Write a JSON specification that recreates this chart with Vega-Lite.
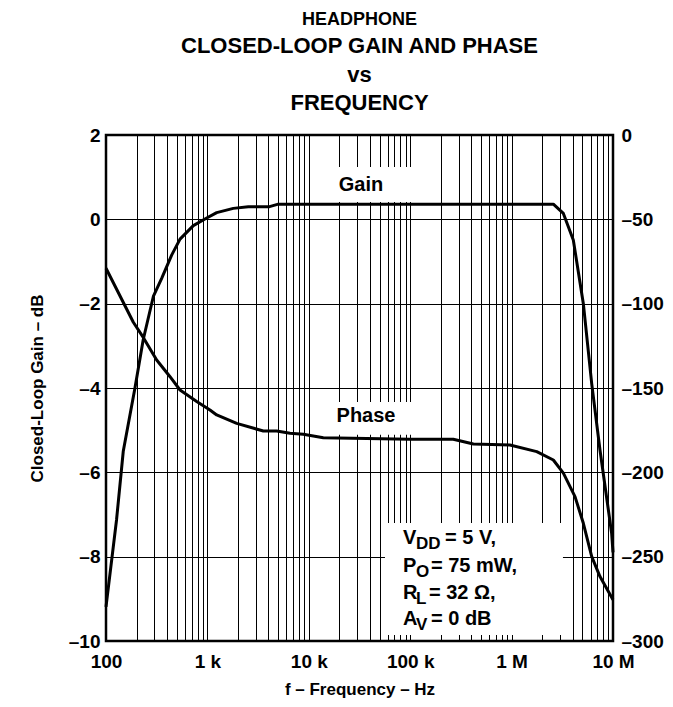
{
  "$schema": "https://vega.github.io/schema/vega-lite/v6.json",
  "width": 507,
  "height": 506,
  "autosize": {"type": "none"},
  "padding": {"left": 106, "top": 135, "right": 60, "bottom": 66},
  "background": "white",
  "title": {
    "text": "HEADPHONE",
    "subtitle": ["CLOSED-LOOP GAIN AND PHASE", "vs", "FREQUENCY"],
    "font": "Liberation Sans",
    "fontSize": 18,
    "fontWeight": "bold",
    "color": "black",
    "subtitleFont": "Liberation Sans",
    "subtitleFontSize": 22,
    "subtitleFontWeight": "bold",
    "subtitleColor": "black",
    "subtitleLineHeight": 28.5,
    "subtitlePadding": 7,
    "anchor": "middle",
    "offset": 12
  },
  "datasets": {
    "gain": [
      {"f": 100, "g": -9.19},
      {"f": 127, "g": -7.13},
      {"f": 148, "g": -5.5},
      {"f": 193, "g": -4.0},
      {"f": 233, "g": -2.85},
      {"f": 293, "g": -1.83},
      {"f": 354, "g": -1.4},
      {"f": 444, "g": -0.85},
      {"f": 537, "g": -0.47},
      {"f": 726, "g": -0.15},
      {"f": 985, "g": 0.03},
      {"f": 1235, "g": 0.16},
      {"f": 1800, "g": 0.26},
      {"f": 2530, "g": 0.3},
      {"f": 4100, "g": 0.3},
      {"f": 5000, "g": 0.36},
      {"f": 100000, "g": 0.36},
      {"f": 2580000, "g": 0.36},
      {"f": 3240000, "g": 0.14},
      {"f": 4060000, "g": -0.49},
      {"f": 5100000, "g": -2.0},
      {"f": 6170000, "g": -3.9},
      {"f": 7440000, "g": -5.47},
      {"f": 9700000, "g": -7.45},
      {"f": 10000000, "g": -7.9}
    ],
    "phase": [
      {"f": 100, "p": -79},
      {"f": 186, "p": -111},
      {"f": 233, "p": -120},
      {"f": 316, "p": -133.4},
      {"f": 428, "p": -143.3},
      {"f": 537, "p": -151.2},
      {"f": 784, "p": -158},
      {"f": 1060, "p": -163},
      {"f": 1235, "p": -166},
      {"f": 1945, "p": -171},
      {"f": 3560, "p": -175.5},
      {"f": 4820, "p": -175.5},
      {"f": 6530, "p": -176.8},
      {"f": 8830, "p": -177.4},
      {"f": 13900, "p": -179.5},
      {"f": 99500, "p": -180.4},
      {"f": 266000, "p": -180.4},
      {"f": 420000, "p": -183.2},
      {"f": 964000, "p": -183.8},
      {"f": 1770000, "p": -187.7},
      {"f": 2580000, "p": -192.7},
      {"f": 3240000, "p": -200.5},
      {"f": 4220000, "p": -214.4},
      {"f": 5100000, "p": -230.2},
      {"f": 6170000, "p": -250},
      {"f": 7440000, "p": -261.8},
      {"f": 10000000, "p": -275.6}
    ],
    "boxes": [
      {"f": 16200, "f2": 111000, "g": 1.24, "g2": 0.41},
      {"f": 16200, "f2": 111000, "g": -4.33, "g2": -5.11},
      {"f": 56400, "f2": 3210000, "g": -7.2, "g2": -9.86}
    ],
    "labels": [
      {"f": 32700, "g": 0.81, "t": "Gain"},
      {"f": 36660, "g": -4.66, "t": "Phase"}
    ],
    "ann": [
      {"f": 84900, "g": -7.56, "t": "V"},
      {"f": 220300, "g": -7.56, "t": "= 5 V,"},
      {"f": 84900, "g": -8.22, "t": "P"},
      {"f": 160300, "g": -8.22, "t": "= 75 mW,"},
      {"f": 84900, "g": -8.87, "t": "R"},
      {"f": 153200, "g": -8.87, "t": "= 32 Ω,"},
      {"f": 84900, "g": -9.48, "t": "A"},
      {"f": 160300, "g": -9.48, "t": "= 0 dB"}
    ],
    "annsub": [
      {"f": 114100, "g": -7.56, "t": "DD"},
      {"f": 114100, "g": -8.22, "t": "O"},
      {"f": 114100, "g": -8.87, "t": "L"},
      {"f": 114100, "g": -9.48, "t": "V"}
    ]
  },
  "layer": [
    {
      "layer": [
        {
          "data": {"name": "boxes"},
          "mark": {"type": "rect", "fill": "white", "strokeWidth": 0},
          "encoding": {
            "x": {"field": "f", "type": "quantitative", "scale": {"type": "log", "domain": [100, 10000000], "nice": false}},
            "x2": {"field": "f2"},
            "y": {"field": "g", "type": "quantitative", "scale": {"domain": [-10, 2], "nice": false, "zero": false}},
            "y2": {"field": "g2"}
          }
        },
        {
          "data": {"name": "gain"},
          "mark": {"type": "line", "color": "black", "strokeWidth": 3, "strokeJoin": "round"},
          "encoding": {
            "x": {
              "field": "f", "type": "quantitative",
              "scale": {"type": "log", "domain": [100, 10000000], "nice": false},
              "axis": {
                "values": [100, 200, 300, 400, 500, 600, 700, 800, 900,
                  1000, 2000, 3000, 4000, 5000, 6000, 7000, 8000, 9000,
                  10000, 20000, 30000, 40000, 50000, 60000, 70000, 80000, 90000,
                  100000, 200000, 300000, 400000, 500000, 600000, 700000, 800000, 900000,
                  1000000, 2000000, 3000000, 4000000, 5000000, 6000000, 7000000, 8000000, 9000000,
                  10000000],
                "labelExpr": "datum.value == 100 ? '100' : datum.value == 1000 ? '1 k' : datum.value == 10000 ? '10 k' : datum.value == 100000 ? '100 k' : datum.value == 1000000 ? '1 M' : datum.value == 10000000 ? '10 M' : ''",
                "labelOverlap": false,
                "labelFlush": false,
                "labelBound": false,
                "labelPadding": 11,
                "title": "f – Frequency – Hz",
                "titlePadding": 10
              }
            },
            "y": {
              "field": "g", "type": "quantitative",
              "scale": {"domain": [-10, 2], "nice": false, "zero": false},
              "axis": {
                "values": [-10, -8, -6, -4, -2, 0, 2],
                "labelExpr": "datum.value < 0 ? '–' + format(-datum.value, 'd') : format(datum.value, 'd')",
                "labelPadding": 6,
                "title": "Closed-Loop Gain – dB",
                "titlePadding": 22
              }
            }
          }
        },
        {
          "data": {"name": "labels"},
          "mark": {"type": "text", "font": "Liberation Sans", "fontSize": 20, "fontWeight": "bold", "align": "center", "baseline": "middle", "color": "black"},
          "encoding": {
            "x": {"field": "f", "type": "quantitative"},
            "y": {"field": "g", "type": "quantitative"},
            "text": {"field": "t"}
          }
        },
        {
          "data": {"name": "ann"},
          "mark": {"type": "text", "font": "Liberation Sans", "fontSize": 20, "fontWeight": "bold", "align": "left", "baseline": "middle", "color": "black"},
          "encoding": {
            "x": {"field": "f", "type": "quantitative"},
            "y": {"field": "g", "type": "quantitative"},
            "text": {"field": "t"}
          }
        },
        {
          "data": {"name": "annsub"},
          "mark": {"type": "text", "font": "Liberation Sans", "fontSize": 17, "fontWeight": "bold", "align": "left", "baseline": "middle", "dy": 6, "color": "black"},
          "encoding": {
            "x": {"field": "f", "type": "quantitative"},
            "y": {"field": "g", "type": "quantitative"},
            "text": {"field": "t"}
          }
        }
      ]
    },
    {
      "data": {"name": "phase"},
      "mark": {"type": "line", "color": "black", "strokeWidth": 3, "strokeJoin": "round"},
      "encoding": {
        "x": {"field": "f", "type": "quantitative"},
        "y": {
          "field": "p", "type": "quantitative",
          "scale": {"domain": [-300, 0], "nice": false},
          "axis": {
            "orient": "right",
            "values": [-300, -250, -200, -150, -100, -50, 0],
            "labelExpr": "datum.value < 0 ? '–' + format(-datum.value, 'd') : format(datum.value, 'd')",
            "grid": false,
            "labelPadding": 8,
            "title": null
          }
        }
      }
    }
  ],
  "resolve": {"scale": {"y": "independent"}},
  "config": {
    "view": {"stroke": "black", "strokeWidth": 2.5},
    "axis": {
      "domain": false,
      "ticks": false,
      "grid": true,
      "gridColor": "black",
      "gridOpacity": 1,
      "gridWidth": 1,
      "labelFont": "Liberation Sans",
      "labelFontSize": 19,
      "labelFontWeight": "bold",
      "labelColor": "black",
      "titleFont": "Liberation Sans",
      "titleFontSize": 17,
      "titleFontWeight": "bold",
      "titleColor": "black"
    }
  }
}
